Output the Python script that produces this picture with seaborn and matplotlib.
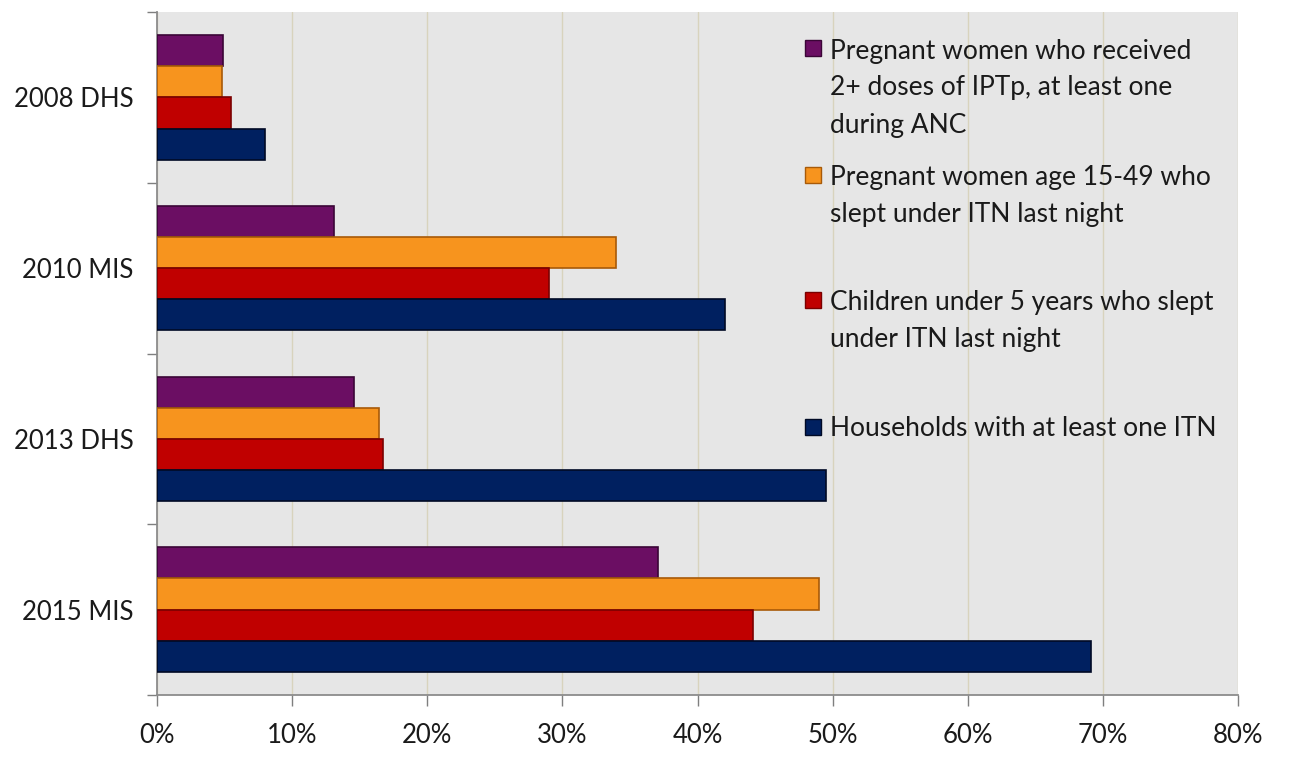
import matplotlib
matplotlib.use("Agg")
import matplotlib.pyplot as plt
import matplotlib.patches as mpatches
from matplotlib.ticker import PercentFormatter, FixedLocator
import seaborn as sns
import pandas as pd

surveys = ["2008 DHS", "2010 MIS", "2013 DHS", "2015 MIS"]
indicators = [
    "Pregnant women who received\n2+ doses of IPTp, at least one\nduring ANC",
    "Pregnant women age 15-49 who\nslept under ITN last night",
    "Children under 5 years who slept\nunder ITN last night",
    "Households with at least one ITN",
]
iptp = [4.9, 13.1, 14.6, 37.1]
preg_itn = [4.8, 34.0, 16.4, 49.0]
child_itn = [5.5, 29.0, 16.7, 44.1]
hh_itn = [8.0, 42.0, 49.5, 69.1]
colors = ["#6b0e63", "#f7941e", "#c00000", "#002060"]
edges = ["#3a0536", "#a85a08", "#7a0000", "#000a25"]
xticks = [0, 10, 20, 30, 40, 50, 60, 70, 80]

series = [iptp, preg_itn, child_itn, hh_itn]
rows = []
for ind, vals in zip(indicators, series):
    for s, v in zip(surveys, vals):
        rows.append({"survey": s, "indicator": ind, "value": v})
df = pd.DataFrame(rows)

sns.set_theme(style="white")
plt.rcParams["font.family"] = ["Lato", "DejaVu Sans"]

fig = plt.figure(figsize=(12.97, 7.67), dpi=100)
ax = fig.add_axes([157 / 1297, 1 - 695 / 767, (1238 - 157) / 1297, (695 - 12) / 767])
ax.set_facecolor("#e6e6e6")

sns.barplot(data=df, y="survey", x="value", hue="indicator", order=surveys,
            hue_order=indicators, palette=colors, orient="h", width=0.73,
            gap=0, legend=False, ax=ax, saturation=1)

for i, cont in enumerate(ax.containers):
    for bar in cont:
        bar.set_edgecolor(edges[i])
        bar.set_linewidth(1.2)
        bar.set_zorder(3)

ax.set_xlim(0, 80)
ax.set_ylim(3.5, -0.5)
ax.set_xticks(xticks)
ax.xaxis.set_major_formatter(PercentFormatter(decimals=0))
ax.grid(axis="x", color="#d8d3bd", linewidth=1.0, zorder=0)
ax.set_axisbelow(True)
ax.set_xlabel("")
ax.set_ylabel("")

ax.set_yticks(range(len(surveys)))
ax.set_yticklabels(surveys)
ax.yaxis.set_minor_locator(FixedLocator([-0.5, 0.5, 1.5, 2.5, 3.5]))
ax.tick_params(axis="y", which="major", length=0, pad=17, labelsize=18.5, labelcolor="#1a1a1a")
ax.tick_params(axis="y", which="minor", length=7, width=1, color="#7f7f7f", left=True)
ax.tick_params(axis="x", which="major", length=8, width=1, color="#7f7f7f", bottom=True,
               pad=12, labelsize=18.5, labelcolor="#1a1a1a")

for side in ["top", "right"]:
    ax.spines[side].set_visible(False)
for side in ["left", "bottom"]:
    ax.spines[side].set_color("#8c8c8c")
    ax.spines[side].set_linewidth(1.3)

# Legend (manual layout matching the reference)
W, H = 1297, 767
entry_y = [48, 175, 300, 427]
line_px = 37.5
for lab, col, ec, yy in zip(indicators, colors, edges, entry_y):
    sq = mpatches.Rectangle((805 / W, 1 - (yy + 8) / H), 16 / W, 16 / H,
                            transform=fig.transFigure, facecolor=col, edgecolor=ec,
                            linewidth=1.0, zorder=5)
    fig.patches.append(sq)
    n_extra = lab.count("\n")
    base = yy + 9.5 + n_extra * line_px
    fig.text(830 / W, 1 - base / H, lab, ha="left", va="baseline",
             fontsize=19, color="#1a1a1a", linespacing=1.6)

fig.savefig("out.png", dpi=100, facecolor="white")
